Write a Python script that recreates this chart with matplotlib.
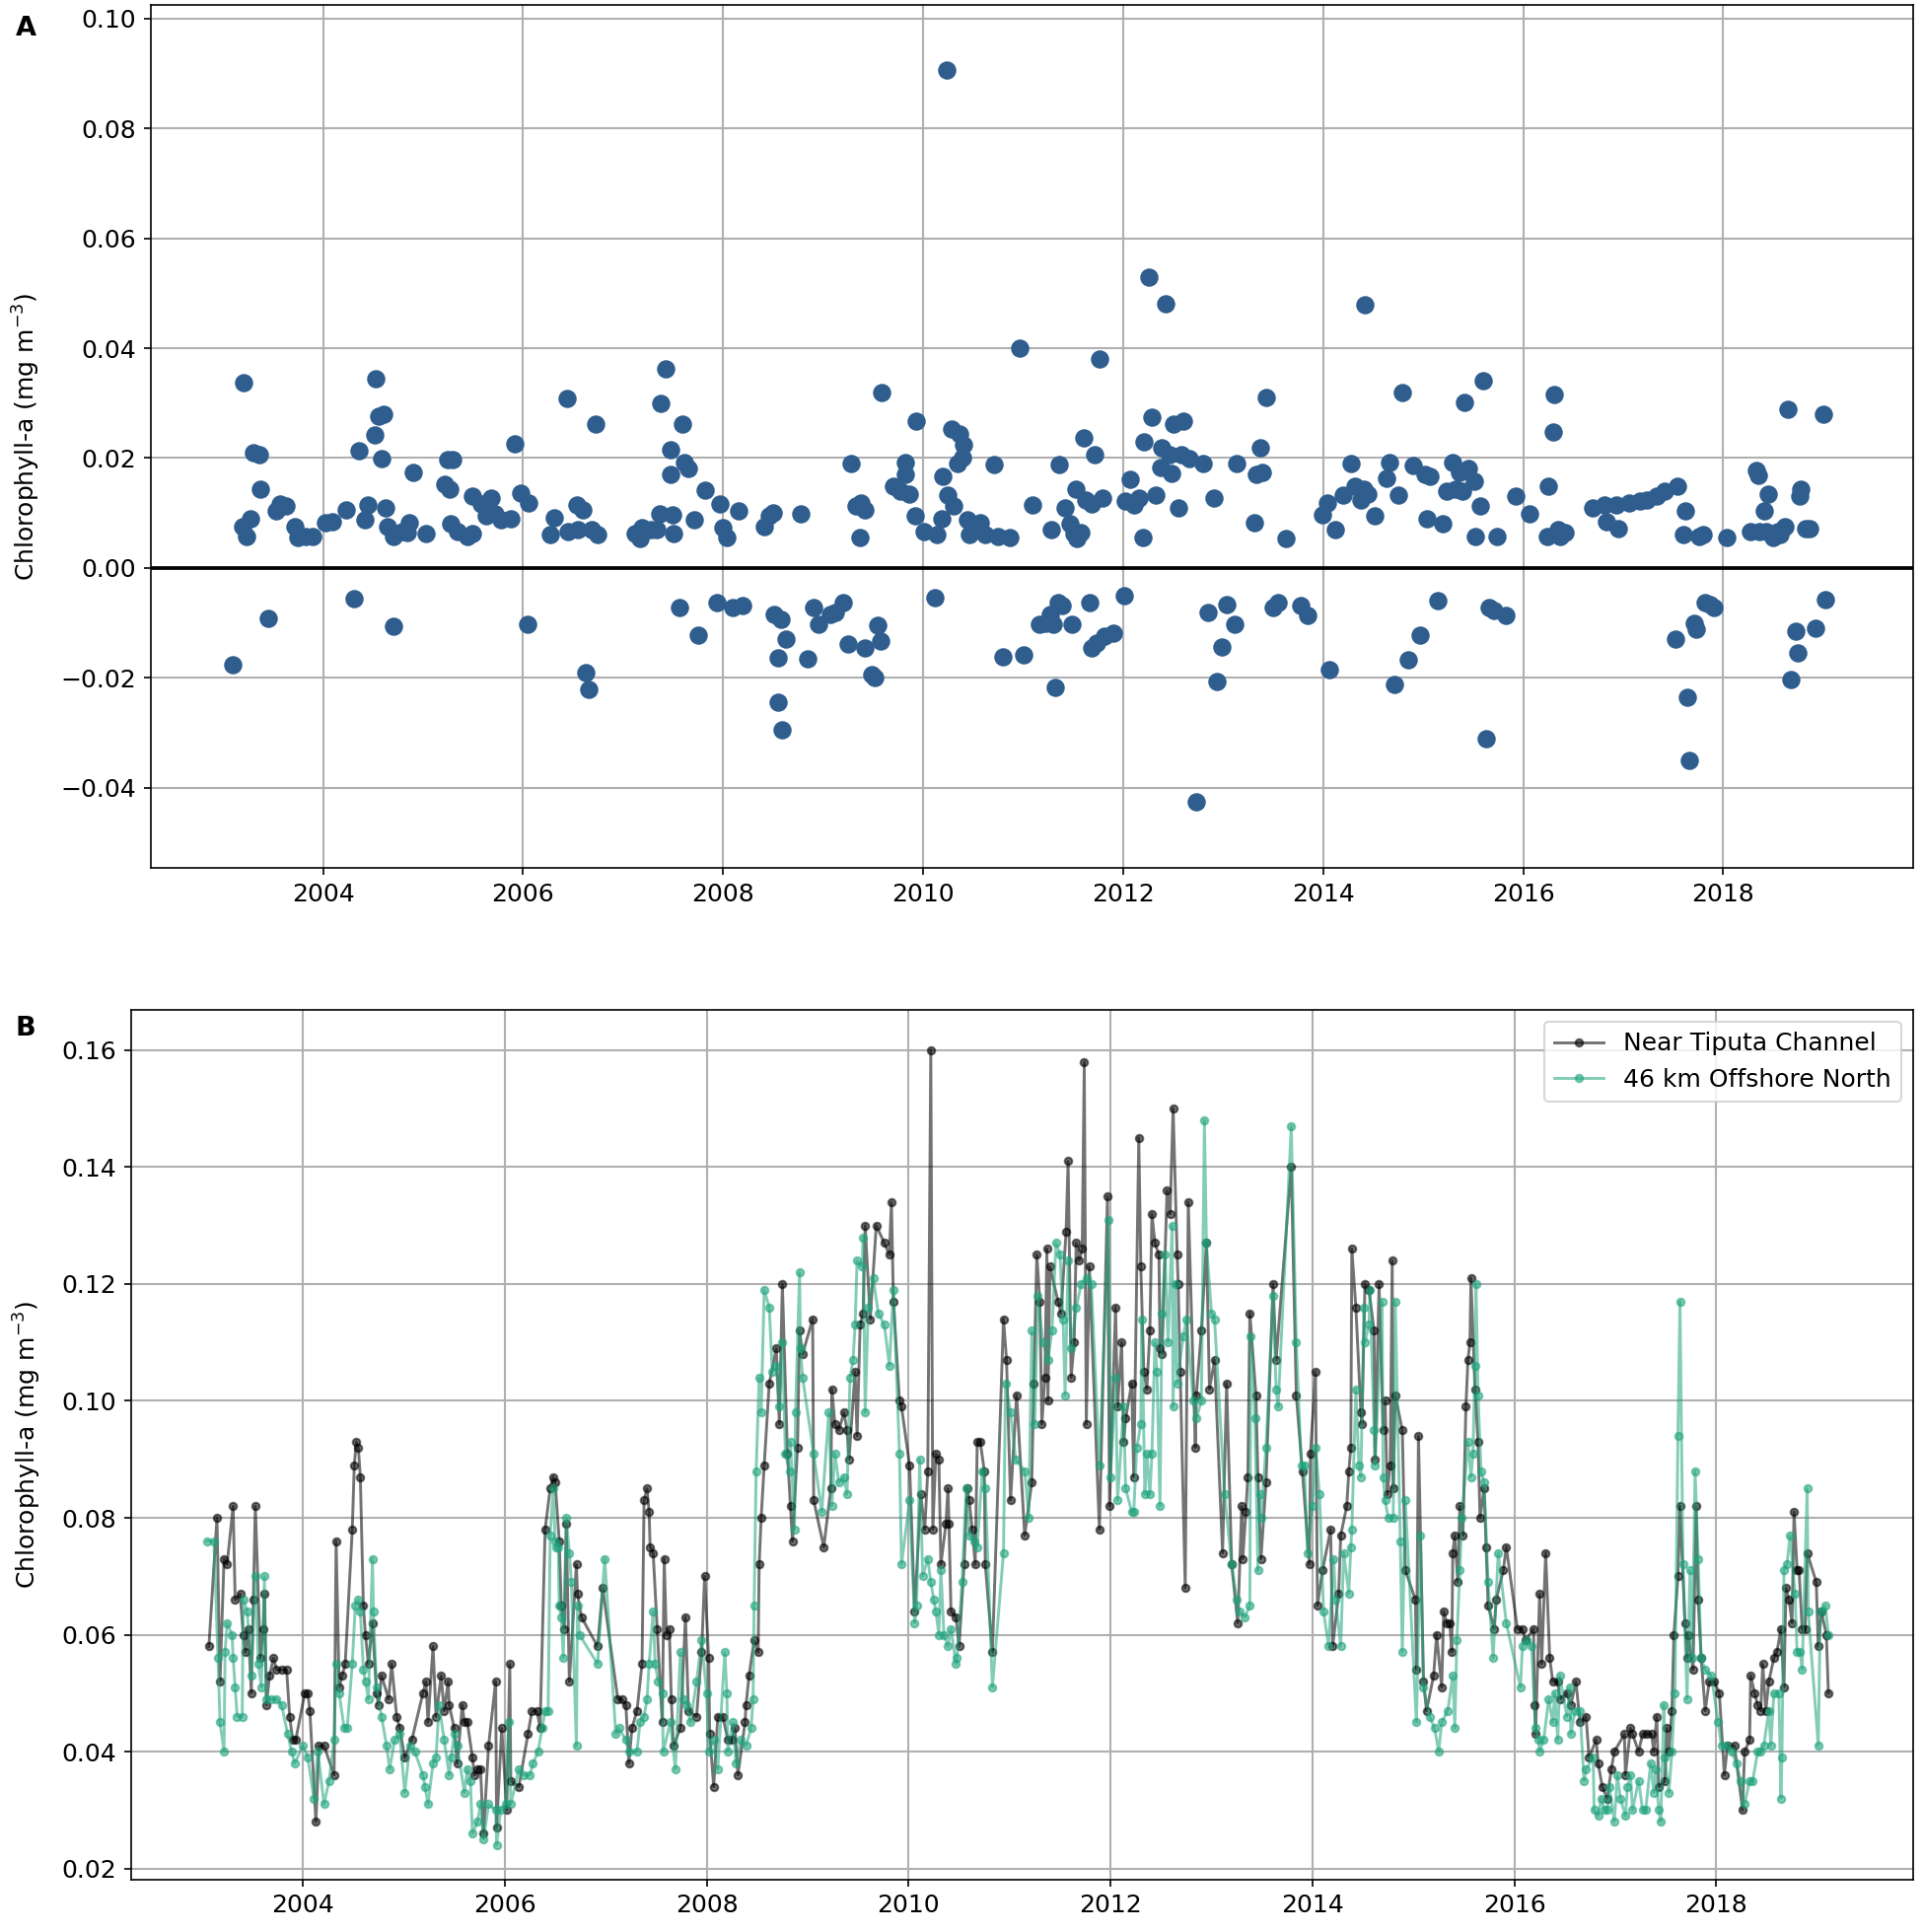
import matplotlib
matplotlib.use("Agg")
import matplotlib.pyplot as plt
import numpy as np

# ---- panel A: difference (near channel minus offshore) ----
diff_dates = [
    2003.10, 2003.21, 2003.20, 2003.24, 2003.28, 2003.30, 2003.36, 2003.37, 2003.45, 2003.53,
    2003.57, 2003.63, 2003.72, 2003.75, 2003.83, 2003.90, 2004.02, 2004.09, 2004.23, 2004.31,
    2004.36, 2004.42, 2004.45, 2004.52, 2004.53, 2004.56, 2004.61, 2004.59, 2004.63, 2004.65,
    2004.70, 2004.70, 2004.79, 2004.84, 2004.86, 2004.90, 2005.03, 2005.22, 2005.25, 2005.30,
    2005.27, 2005.28, 2005.35, 2005.44, 2005.49, 2005.49, 2005.58, 2005.63, 2005.68, 2005.72,
    2005.78, 2005.88, 2005.92, 2005.98, 2006.05, 2006.06, 2006.27, 2006.31, 2006.44, 2006.45,
    2006.54, 2006.55, 2006.60, 2006.63, 2006.66, 2006.69, 2006.73, 2006.75, 2007.12, 2007.17,
    2007.19, 2007.28, 2007.34, 2007.37, 2007.38, 2007.43, 2007.48, 2007.48, 2007.50, 2007.51,
    2007.56, 2007.59, 2007.61, 2007.65, 2007.71, 2007.75, 2007.82, 2007.94, 2007.97, 2008.00,
    2008.04, 2008.10, 2008.16, 2008.20, 2008.41, 2008.46, 2008.50, 2008.51, 2008.55, 2008.55,
    2008.58, 2008.59, 2008.63, 2008.78, 2008.85, 2008.91, 2008.95, 2009.07, 2009.12, 2009.20,
    2009.25, 2009.28, 2009.33, 2009.37, 2009.38, 2009.42, 2009.42, 2009.49, 2009.52, 2009.55,
    2009.58, 2009.59, 2009.70, 2009.77, 2009.82, 2009.82, 2009.86, 2009.92, 2009.93, 2010.01,
    2010.12, 2010.14, 2010.19, 2010.20, 2010.24, 2010.25, 2010.29, 2010.31, 2010.34, 2010.36,
    2010.39, 2010.40, 2010.44, 2010.46, 2010.52, 2010.57, 2010.62, 2010.71, 2010.75, 2010.80,
    2010.87, 2010.97, 2011.01, 2011.09, 2011.16, 2011.22, 2011.27, 2011.28, 2011.30, 2011.32,
    2011.35, 2011.36, 2011.39, 2011.42, 2011.47, 2011.49, 2011.51, 2011.53, 2011.54, 2011.58,
    2011.61, 2011.63, 2011.67, 2011.69, 2011.69, 2011.72, 2011.74, 2011.76, 2011.79, 2011.81,
    2011.90, 2012.01, 2012.02, 2012.07, 2012.11, 2012.16, 2012.20, 2012.21, 2012.26, 2012.29,
    2012.33, 2012.38, 2012.39, 2012.43, 2012.46, 2012.48, 2012.50, 2012.55, 2012.58, 2012.60,
    2012.66, 2012.73, 2012.80, 2012.85, 2012.91, 2012.94, 2012.99, 2013.04, 2013.12, 2013.14,
    2013.31, 2013.33, 2013.37, 2013.39, 2013.43, 2013.50, 2013.55, 2013.63, 2013.78, 2013.85,
    2013.99, 2014.04, 2014.06, 2014.12, 2014.20, 2014.28, 2014.32, 2014.38, 2014.41, 2014.42,
    2014.45, 2014.52, 2014.63, 2014.66, 2014.71, 2014.75, 2014.79, 2014.85, 2014.90, 2014.97,
    2015.02, 2015.04, 2015.07, 2015.15, 2015.20, 2015.24, 2015.29, 2015.32, 2015.36, 2015.39,
    2015.41, 2015.45, 2015.51, 2015.52, 2015.57, 2015.60, 2015.63, 2015.66, 2015.71, 2015.74,
    2015.83, 2015.93, 2016.06, 2016.24, 2016.25, 2016.30, 2016.31, 2016.35, 2016.37, 2016.42,
    2016.69, 2016.81, 2016.83, 2016.93, 2016.95, 2017.06, 2017.17, 2017.24, 2017.34, 2017.41,
    2017.54, 2017.52, 2017.60, 2017.62, 2017.64, 2017.66, 2017.71, 2017.73, 2017.76, 2017.80,
    2017.82, 2017.87, 2017.91, 2018.04, 2018.27, 2018.33, 2018.35, 2018.36, 2018.41, 2018.43,
    2018.45, 2018.50, 2018.55, 2018.57, 2018.62, 2018.65, 2018.68, 2018.73, 2018.75, 2018.77,
    2018.78, 2018.82, 2018.86, 2018.92, 2019.00, 2019.02,
]
diff_vals = [
    -0.0177, 0.0338, 0.0076, 0.0058, 0.0090, 0.0210, 0.0206, 0.0143, -0.0092, 0.0103,
    0.0116, 0.0112, 0.0076, 0.0056, 0.0058, 0.0058, 0.0083, 0.0085, 0.0105, -0.0056,
    0.0213, 0.0087, 0.0114, 0.0242, 0.0345, 0.0277, 0.0280, 0.0199, 0.0110, 0.0076,
    -0.0107, 0.0058, 0.0067, 0.0065, 0.0083, 0.0174, 0.0063, 0.0152, 0.0197, 0.0197,
    0.0143, 0.0081, 0.0067, 0.0058, 0.0063, 0.0130, 0.0116, 0.0094, 0.0128, 0.0098,
    0.0087, 0.0090, 0.0226, 0.0136, -0.0103, 0.0119, 0.0060, 0.0092, 0.0309, 0.0067,
    0.0114, 0.0069, 0.0105, -0.0190, -0.0221, 0.0069, 0.0262, 0.0060, 0.0063, 0.0054,
    0.0074, 0.0069, 0.0069, 0.0098, 0.0300, 0.0362, 0.0215, 0.0170, 0.0096, 0.0063,
    -0.0072, 0.0262, 0.0192, 0.0181, 0.0087, -0.0123, 0.0141, -0.0063, 0.0116, 0.0074,
    0.0056, -0.0072, 0.0103, -0.0069, 0.0076, 0.0094, 0.0101, -0.0085, -0.0163, -0.0244,
    -0.0094, -0.0295, -0.0130, 0.0098, -0.0166, -0.0072, -0.0103, -0.0085, -0.0081, -0.0063,
    -0.0139, 0.0190, 0.0112, 0.0056, 0.0119, -0.0145, 0.0105, -0.0195, -0.0199, -0.0105,
    -0.0134, 0.0320, 0.0148, 0.0139, 0.0192, 0.0170, 0.0134, 0.0094, 0.0268, 0.0067,
    -0.0054, 0.0060, 0.0090, 0.0166, 0.0906, 0.0132, 0.0253, 0.0112, 0.0190, 0.0244,
    0.0201, 0.0224, 0.0087, 0.0060, 0.0074, 0.0083, 0.0060, 0.0188, 0.0058, -0.0161,
    0.0056, 0.0400, -0.0159, 0.0114, -0.0103, -0.0101, -0.0085, 0.0069, -0.0103, -0.0217,
    -0.0063, 0.0188, -0.0069, 0.0110, 0.0081, -0.0103, 0.0063, 0.0143, 0.0054, 0.0065,
    0.0237, 0.0123, -0.0063, -0.0145, 0.0116, 0.0206, -0.0136, 0.0380, 0.0128, -0.0125,
    -0.0119, -0.0051, 0.0121, 0.0161, 0.0114, 0.0128, 0.0056, 0.0230, 0.0530, 0.0275,
    0.0132, 0.0183, 0.0219, 0.0480, 0.0206, 0.0172, 0.0262, 0.0110, 0.0206, 0.0268,
    0.0199, -0.0425, 0.0190, -0.0081, 0.0128, -0.0206, -0.0143, -0.0067, -0.0103, 0.0190,
    0.0083, 0.0170, 0.0219, 0.0174, 0.0311, -0.0072, -0.0063, 0.0054, -0.0069, -0.0087,
    0.0096, 0.0119, -0.0186, 0.0069, 0.0132, 0.0190, 0.0148, 0.0123, 0.0143, 0.0479,
    0.0134, 0.0094, 0.0163, 0.0192, -0.0213, 0.0132, 0.0320, -0.0168, 0.0186, -0.0123,
    0.0170, 0.0090, 0.0166, -0.0060, 0.0081, 0.0139, 0.0192, 0.0143, 0.0174, 0.0139,
    0.0302, 0.0181, 0.0157, 0.0058, 0.0112, 0.0340, -0.0311, -0.0072, -0.0078, 0.0058,
    -0.0087, 0.0130, 0.0098, 0.0058, 0.0148, 0.0248, 0.0315, 0.0069, 0.0058, 0.0065,
    0.0110, 0.0114, 0.0085, 0.0114, 0.0072, 0.0119, 0.0121, 0.0123, 0.0130, 0.0139,
    0.0148, -0.0130, 0.0060, 0.0103, -0.0235, -0.0351, -0.0101, -0.0112, 0.0058, 0.0060,
    -0.0063, -0.0067, -0.0072, 0.0056, 0.0067, 0.0177, 0.0168, 0.0067, 0.0103, 0.0067,
    0.0134, 0.0056, 0.0067, 0.0060, 0.0076, 0.0289, -0.0204, -0.0116, -0.0154, 0.0130,
    0.0143, 0.0072, 0.0072, -0.0110, 0.0280, -0.0058,
]

# ---- panel B: Near Tiputa Channel ----
near_dates = [
    2003.07, 2003.15, 2003.18, 2003.22, 2003.25, 2003.31, 2003.33, 2003.38, 2003.41, 2003.43,
    2003.46, 2003.49, 2003.51, 2003.53, 2003.58, 2003.61, 2003.62, 2003.64, 2003.67, 2003.71,
    2003.74, 2003.79, 2003.84, 2003.87, 2003.90, 2003.93, 2004.02, 2004.05, 2004.07, 2004.13,
    2004.16, 2004.21, 2004.31, 2004.33, 2004.36, 2004.39, 2004.42, 2004.49, 2004.51, 2004.53,
    2004.55, 2004.57, 2004.60, 2004.62, 2004.65, 2004.69, 2004.73, 2004.75, 2004.78, 2004.85,
    2004.88, 2004.93, 2004.96, 2005.01, 2005.08, 2005.19, 2005.22, 2005.24, 2005.29, 2005.32,
    2005.37, 2005.40, 2005.44, 2005.45, 2005.50, 2005.53, 2005.58, 2005.60, 2005.63, 2005.68,
    2005.70, 2005.73, 2005.76, 2005.79, 2005.84, 2005.91, 2005.92, 2005.97, 2006.02, 2006.05,
    2006.06, 2006.14, 2006.23, 2006.27, 2006.32, 2006.35, 2006.40, 2006.45, 2006.48, 2006.50,
    2006.54, 2006.56, 2006.59, 2006.61, 2006.64, 2006.71, 2006.72, 2006.76, 2006.92, 2006.97,
    2007.12, 2007.16, 2007.20, 2007.23, 2007.26, 2007.31, 2007.36, 2007.38, 2007.41, 2007.43,
    2007.44, 2007.47, 2007.51, 2007.56, 2007.58, 2007.60, 2007.63, 2007.65, 2007.67, 2007.74,
    2007.79, 2007.82, 2007.90, 2007.95, 2007.98, 2008.02, 2008.03, 2008.07, 2008.11, 2008.16,
    2008.21, 2008.25, 2008.28, 2008.31, 2008.38, 2008.39, 2008.42, 2008.47, 2008.51, 2008.52,
    2008.54, 2008.57, 2008.62, 2008.69, 2008.72, 2008.75, 2008.80, 2008.83, 2008.85, 2008.90,
    2008.92, 2008.95, 2009.05, 2009.06, 2009.16, 2009.23, 2009.24, 2009.27, 2009.31, 2009.36,
    2009.39, 2009.41, 2009.47, 2009.49, 2009.52, 2009.55, 2009.57, 2009.62, 2009.68, 2009.76,
    2009.81, 2009.83, 2009.85, 2009.91, 2009.93, 2010.01, 2010.06, 2010.12, 2010.16, 2010.19,
    2010.22, 2010.24, 2010.27, 2010.30, 2010.32, 2010.37, 2010.39, 2010.40, 2010.42, 2010.47,
    2010.50, 2010.55, 2010.58, 2010.60, 2010.63, 2010.66, 2010.68, 2010.71, 2010.75, 2010.76,
    2010.83, 2010.94, 2010.97, 2011.01, 2011.07, 2011.15, 2011.22, 2011.24, 2011.27, 2011.30,
    2011.32, 2011.35, 2011.37, 2011.38, 2011.40, 2011.48, 2011.51, 2011.56, 2011.58, 2011.61,
    2011.64, 2011.66, 2011.69, 2011.72, 2011.74, 2011.76, 2011.79, 2011.89, 2011.97, 2011.99,
    2012.05, 2012.07, 2012.11, 2012.13, 2012.15, 2012.21, 2012.23, 2012.28, 2012.30, 2012.33,
    2012.36, 2012.39, 2012.41, 2012.44, 2012.48, 2012.49, 2012.51, 2012.56, 2012.59, 2012.62,
    2012.66, 2012.67, 2012.69, 2012.74, 2012.77, 2012.84, 2012.85, 2012.90, 2012.95, 2012.98,
    2013.03, 2013.11, 2013.15, 2013.20, 2013.26, 2013.30, 2013.31, 2013.34, 2013.36, 2013.38,
    2013.44, 2013.46, 2013.49, 2013.54, 2013.61, 2013.64, 2013.79, 2013.84, 2013.90, 2013.97,
    2013.98, 2014.03, 2014.05, 2014.10, 2014.18, 2014.20, 2014.26, 2014.28, 2014.34, 2014.36,
    2014.38, 2014.39, 2014.43, 2014.48, 2014.49, 2014.52, 2014.56, 2014.61, 2014.62, 2014.66,
    2014.70, 2014.72, 2014.74, 2014.77, 2014.79, 2014.80, 2014.82, 2014.89, 2014.92, 2015.02,
    2015.03, 2015.05, 2015.10, 2015.13, 2015.20, 2015.23, 2015.28, 2015.30, 2015.33, 2015.36,
    2015.38, 2015.39, 2015.41, 2015.44, 2015.46, 2015.49, 2015.52, 2015.54, 2015.56, 2015.57,
    2015.61, 2015.64, 2015.66, 2015.70, 2015.72, 2015.74, 2015.80, 2015.82, 2015.89, 2015.92,
    2016.03, 2016.08, 2016.11, 2016.19, 2016.20, 2016.21, 2016.25, 2016.27, 2016.31, 2016.35,
    2016.38, 2016.43, 2016.45, 2016.52, 2016.56, 2016.61, 2016.65, 2016.71, 2016.74, 2016.81,
    2016.83, 2016.87, 2016.92, 2016.96, 2016.99, 2017.09, 2017.10, 2017.15, 2017.17, 2017.23,
    2017.27, 2017.31, 2017.36, 2017.38, 2017.41, 2017.43, 2017.49, 2017.51, 2017.53, 2017.56,
    2017.58, 2017.62, 2017.64, 2017.69, 2017.71, 2017.72, 2017.77, 2017.80, 2017.82, 2017.85,
    2017.89, 2017.93, 2017.98, 2018.03, 2018.08, 2018.11, 2018.18, 2018.26, 2018.28, 2018.33,
    2018.34, 2018.38, 2018.41, 2018.44, 2018.46, 2018.49, 2018.52, 2018.57, 2018.60, 2018.64,
    2018.67, 2018.69, 2018.72, 2018.75, 2018.77, 2018.80, 2018.82, 2018.85, 2018.88, 2018.90,
    2018.99, 2019.01, 2019.04, 2019.09, 2019.11,
]
near_chl = [
    0.058, 0.080, 0.052, 0.073, 0.072, 0.082, 0.066, 0.067, 0.060, 0.057,
    0.061, 0.050, 0.066, 0.082, 0.056, 0.061, 0.067, 0.048, 0.053, 0.056,
    0.054, 0.054, 0.054, 0.046, 0.042, 0.042, 0.050, 0.050, 0.047, 0.028,
    0.041, 0.041, 0.036, 0.076, 0.051, 0.053, 0.055, 0.078, 0.089, 0.093,
    0.092, 0.087, 0.065, 0.060, 0.055, 0.062, 0.050, 0.048, 0.053, 0.049,
    0.055, 0.046, 0.044, 0.039, 0.042, 0.050, 0.052, 0.045, 0.058, 0.046,
    0.053, 0.047, 0.052, 0.048, 0.044, 0.038, 0.048, 0.045, 0.045, 0.039,
    0.036, 0.037, 0.037, 0.026, 0.041, 0.052, 0.027, 0.044, 0.030, 0.055,
    0.035, 0.034, 0.043, 0.047, 0.047, 0.044, 0.078, 0.085, 0.087, 0.086,
    0.076, 0.065, 0.061, 0.079, 0.052, 0.072, 0.067, 0.063, 0.058, 0.068,
    0.049, 0.049, 0.048, 0.038, 0.044, 0.047, 0.055, 0.083, 0.085, 0.081,
    0.075, 0.074, 0.061, 0.045, 0.073, 0.060, 0.061, 0.049, 0.041, 0.044,
    0.063, 0.047, 0.046, 0.057, 0.070, 0.056, 0.043, 0.034, 0.046, 0.046,
    0.042, 0.042, 0.044, 0.036, 0.045, 0.048, 0.053, 0.059, 0.057, 0.072,
    0.080, 0.089, 0.103, 0.109, 0.096, 0.120, 0.091, 0.082, 0.076, 0.092,
    0.112, 0.108, 0.114, 0.083, 0.075, 0.085, 0.102, 0.096, 0.095, 0.098,
    0.095, 0.090, 0.105, 0.094, 0.113, 0.115, 0.130, 0.114, 0.130, 0.127,
    0.125, 0.134, 0.117, 0.100, 0.099, 0.089, 0.064, 0.084, 0.078, 0.088,
    0.160, 0.078, 0.091, 0.090, 0.072, 0.079, 0.085, 0.079, 0.064, 0.063,
    0.058, 0.072, 0.085, 0.083, 0.078, 0.072, 0.093, 0.093, 0.088, 0.072,
    0.057, 0.114, 0.107, 0.083, 0.101, 0.077, 0.086, 0.103, 0.125, 0.117,
    0.096, 0.104, 0.126, 0.100, 0.123, 0.117, 0.115, 0.129, 0.141, 0.104,
    0.110, 0.127, 0.124, 0.126, 0.158, 0.096, 0.123, 0.078, 0.135, 0.082,
    0.116, 0.099, 0.110, 0.093, 0.097, 0.103, 0.087, 0.145, 0.123, 0.105,
    0.102, 0.112, 0.132, 0.127, 0.125, 0.109, 0.108, 0.136, 0.132, 0.150,
    0.125, 0.120, 0.105, 0.068, 0.134, 0.092, 0.101, 0.112, 0.127, 0.102,
    0.107, 0.074, 0.103, 0.072, 0.062, 0.082, 0.073, 0.081, 0.087, 0.115,
    0.101, 0.087, 0.073, 0.086, 0.120, 0.107, 0.140, 0.101, 0.088, 0.072,
    0.091, 0.105, 0.065, 0.071, 0.078, 0.058, 0.067, 0.077, 0.082, 0.088,
    0.092, 0.126, 0.116, 0.098, 0.096, 0.120, 0.119, 0.112, 0.090, 0.120,
    0.095, 0.100, 0.084, 0.089, 0.124, 0.085, 0.101, 0.095, 0.071, 0.066,
    0.054, 0.094, 0.052, 0.047, 0.053, 0.060, 0.051, 0.064, 0.062, 0.062,
    0.057, 0.074, 0.077, 0.069, 0.082, 0.077, 0.099, 0.107, 0.110, 0.121,
    0.102, 0.093, 0.080, 0.085, 0.075, 0.065, 0.061, 0.066, 0.071, 0.075,
    0.061, 0.061, 0.059, 0.061, 0.048, 0.043, 0.067, 0.055, 0.074, 0.056,
    0.052, 0.052, 0.049, 0.050, 0.048, 0.052, 0.045, 0.046, 0.039, 0.042,
    0.038, 0.034, 0.032, 0.037, 0.040, 0.043, 0.036, 0.044, 0.043, 0.040,
    0.043, 0.043, 0.043, 0.040, 0.046, 0.034, 0.035, 0.044, 0.040, 0.047,
    0.060, 0.070, 0.082, 0.062, 0.056, 0.060, 0.054, 0.082, 0.066, 0.056,
    0.047, 0.052, 0.052, 0.050, 0.036, 0.041, 0.041, 0.030, 0.040, 0.042,
    0.053, 0.050, 0.048, 0.047, 0.055, 0.047, 0.052, 0.056, 0.057, 0.061,
    0.051, 0.068, 0.066, 0.062, 0.081, 0.071, 0.071, 0.061, 0.061, 0.074,
    0.069, 0.058, 0.064, 0.060, 0.050,
]

# ---- panel B: 46 km Offshore North ----
off_dates = [
    2003.05, 2003.12, 2003.16, 2003.18, 2003.22, 2003.23, 2003.25, 2003.30, 2003.31, 2003.33,
    2003.35, 2003.40, 2003.41, 2003.45, 2003.49, 2003.53, 2003.56, 2003.59, 2003.62, 2003.64,
    2003.69, 2003.74, 2003.79, 2003.85, 2003.89, 2003.92, 2004.00, 2004.05, 2004.11, 2004.15,
    2004.21, 2004.26, 2004.31, 2004.33, 2004.36, 2004.41, 2004.44, 2004.49, 2004.52, 2004.55,
    2004.57, 2004.60, 2004.62, 2004.65, 2004.69, 2004.70, 2004.73, 2004.78, 2004.83, 2004.86,
    2004.91, 2004.96, 2005.01, 2005.06, 2005.11, 2005.19, 2005.21, 2005.24, 2005.29, 2005.32,
    2005.35, 2005.40, 2005.45, 2005.47, 2005.50, 2005.53, 2005.60, 2005.63, 2005.66, 2005.68,
    2005.73, 2005.76, 2005.79, 2005.84, 2005.91, 2005.92, 2005.96, 2006.01, 2006.04, 2006.06,
    2006.14, 2006.19, 2006.25, 2006.28, 2006.33, 2006.37, 2006.40, 2006.43, 2006.45, 2006.48,
    2006.50, 2006.51, 2006.53, 2006.54, 2006.56, 2006.58, 2006.61, 2006.64, 2006.66, 2006.71,
    2006.72, 2006.74, 2006.92, 2006.99, 2007.10, 2007.13, 2007.20, 2007.23, 2007.31, 2007.34,
    2007.38, 2007.41, 2007.43, 2007.47, 2007.49, 2007.52, 2007.56, 2007.57, 2007.64, 2007.69,
    2007.74, 2007.77, 2007.80, 2007.84, 2007.90, 2007.95, 2008.00, 2008.02, 2008.07, 2008.11,
    2008.18, 2008.20, 2008.21, 2008.26, 2008.29, 2008.34, 2008.39, 2008.44, 2008.46, 2008.47,
    2008.49, 2008.52, 2008.54, 2008.57, 2008.62, 2008.65, 2008.69, 2008.72, 2008.75, 2008.78,
    2008.82, 2008.83, 2008.87, 2008.88, 2008.92, 2008.93, 2008.95, 2009.06, 2009.14, 2009.21,
    2009.24, 2009.27, 2009.31, 2009.36, 2009.39, 2009.42, 2009.45, 2009.47, 2009.49, 2009.54,
    2009.55, 2009.57, 2009.60, 2009.65, 2009.70, 2009.76, 2009.81, 2009.85, 2009.91, 2009.93,
    2010.01, 2010.06, 2010.08, 2010.11, 2010.14, 2010.19, 2010.22, 2010.25, 2010.27, 2010.30,
    2010.32, 2010.35, 2010.39, 2010.42, 2010.47, 2010.48, 2010.53, 2010.57, 2010.60, 2010.65,
    2010.68, 2010.73, 2010.76, 2010.83, 2010.94, 2010.96, 2011.01, 2011.06, 2011.15, 2011.19,
    2011.22, 2011.25, 2011.28, 2011.33, 2011.38, 2011.42, 2011.46, 2011.50, 2011.53, 2011.55,
    2011.58, 2011.61, 2011.66, 2011.71, 2011.76, 2011.81, 2011.89, 2011.98, 2012.00, 2012.05,
    2012.07, 2012.13, 2012.15, 2012.21, 2012.23, 2012.26, 2012.30, 2012.31, 2012.34, 2012.36,
    2012.39, 2012.41, 2012.44, 2012.46, 2012.49, 2012.51, 2012.54, 2012.57, 2012.61, 2012.62,
    2012.64, 2012.66, 2012.72, 2012.75, 2012.82, 2012.85, 2012.90, 2012.93, 2012.95, 2013.00,
    2013.03, 2013.13, 2013.20, 2013.25, 2013.28, 2013.33, 2013.38, 2013.39, 2013.43, 2013.46,
    2013.48, 2013.49, 2013.54, 2013.61, 2013.64, 2013.66, 2013.79, 2013.84, 2013.89, 2013.92,
    2013.95, 2014.00, 2014.03, 2014.07, 2014.11, 2014.16, 2014.21, 2014.23, 2014.28, 2014.31,
    2014.36, 2014.38, 2014.39, 2014.43, 2014.46, 2014.48, 2014.51, 2014.52, 2014.56, 2014.57,
    2014.61, 2014.62, 2014.69, 2014.70, 2014.72, 2014.75, 2014.80, 2014.82, 2014.87, 2014.89,
    2014.92, 2015.03, 2015.07, 2015.10, 2015.16, 2015.21, 2015.25, 2015.28, 2015.34, 2015.39,
    2015.41, 2015.43, 2015.46, 2015.48, 2015.54, 2015.57, 2015.59, 2015.61, 2015.62, 2015.64,
    2015.67, 2015.70, 2015.74, 2015.79, 2015.84, 2015.92, 2016.06, 2016.08, 2016.12, 2016.17,
    2016.21, 2016.24, 2016.25, 2016.29, 2016.34, 2016.38, 2016.40, 2016.43, 2016.45, 2016.52,
    2016.55, 2016.56, 2016.60, 2016.65, 2016.69, 2016.71, 2016.78, 2016.79, 2016.83, 2016.86,
    2016.89, 2016.92, 2016.94, 2016.99, 2017.02, 2017.05, 2017.10, 2017.12, 2017.15, 2017.17,
    2017.23, 2017.27, 2017.30, 2017.35, 2017.38, 2017.40, 2017.43, 2017.45, 2017.48, 2017.49,
    2017.53, 2017.56, 2017.59, 2017.62, 2017.64, 2017.67, 2017.71, 2017.74, 2017.76, 2017.79,
    2017.82, 2017.85, 2017.89, 2017.95, 2018.02, 2018.05, 2018.10, 2018.15, 2018.20, 2018.24,
    2018.28, 2018.33, 2018.36, 2018.41, 2018.44, 2018.47, 2018.52, 2018.54, 2018.57, 2018.62,
    2018.64, 2018.65, 2018.67, 2018.70, 2018.73, 2018.78, 2018.80, 2018.83, 2018.85, 2018.90,
    2018.91, 2019.01, 2019.03, 2019.08, 2019.11,
]
off_chl = [
    0.076, 0.076, 0.056, 0.045, 0.040, 0.057, 0.062, 0.060, 0.056, 0.051,
    0.046, 0.046, 0.066, 0.064, 0.053, 0.070, 0.055, 0.051, 0.070, 0.049,
    0.049, 0.049, 0.048, 0.043, 0.040, 0.038, 0.041, 0.039, 0.032, 0.040,
    0.031, 0.035, 0.042, 0.055, 0.050, 0.044, 0.044, 0.055, 0.065, 0.066,
    0.064, 0.054, 0.052, 0.049, 0.073, 0.064, 0.051, 0.046, 0.041, 0.037,
    0.042, 0.043, 0.033, 0.041, 0.040, 0.036, 0.034, 0.031, 0.038, 0.039,
    0.048, 0.042, 0.036, 0.039, 0.043, 0.041, 0.033, 0.037, 0.035, 0.026,
    0.028, 0.031, 0.025, 0.031, 0.030, 0.024, 0.030, 0.031, 0.045, 0.031,
    0.037, 0.036, 0.036, 0.038, 0.040, 0.044, 0.047, 0.047, 0.077, 0.085,
    0.076, 0.075, 0.075, 0.065, 0.063, 0.056, 0.080, 0.074, 0.069, 0.041,
    0.065, 0.060, 0.055, 0.073, 0.043, 0.044, 0.042, 0.040, 0.040, 0.045,
    0.046, 0.049, 0.055, 0.064, 0.055, 0.052, 0.050, 0.040, 0.045, 0.037,
    0.057, 0.049, 0.048, 0.045, 0.052, 0.059, 0.050, 0.040, 0.042, 0.037,
    0.057, 0.050, 0.040, 0.045, 0.038, 0.042, 0.041, 0.044, 0.049, 0.065,
    0.088, 0.104, 0.098, 0.119, 0.116, 0.105, 0.106, 0.099, 0.110, 0.091,
    0.088, 0.093, 0.078, 0.098, 0.122, 0.109, 0.104, 0.091, 0.081, 0.098,
    0.082, 0.091, 0.086, 0.087, 0.084, 0.104, 0.107, 0.113, 0.124, 0.123,
    0.128, 0.098, 0.116, 0.121, 0.115, 0.113, 0.106, 0.119, 0.091, 0.072,
    0.083, 0.062, 0.065, 0.090, 0.070, 0.073, 0.069, 0.066, 0.064, 0.060,
    0.071, 0.060, 0.058, 0.061, 0.055, 0.056, 0.069, 0.085, 0.077, 0.076,
    0.075, 0.088, 0.085, 0.051, 0.074, 0.103, 0.098, 0.090, 0.088, 0.080,
    0.112, 0.096, 0.118, 0.110, 0.107, 0.112, 0.127, 0.125, 0.114, 0.101,
    0.124, 0.109, 0.116, 0.120, 0.121, 0.120, 0.089, 0.131, 0.087, 0.104,
    0.083, 0.099, 0.085, 0.081, 0.081, 0.092, 0.096, 0.114, 0.084, 0.091,
    0.084, 0.091, 0.110, 0.105, 0.082, 0.115, 0.125, 0.110, 0.130, 0.099,
    0.120, 0.103, 0.111, 0.114, 0.100, 0.097, 0.100, 0.148, 0.127, 0.115,
    0.114, 0.084, 0.072, 0.066, 0.064, 0.063, 0.065, 0.111, 0.097, 0.071,
    0.084, 0.080, 0.092, 0.118, 0.102, 0.099, 0.147, 0.110, 0.089, 0.089,
    0.074, 0.082, 0.092, 0.084, 0.064, 0.058, 0.073, 0.066, 0.058, 0.074,
    0.067, 0.075, 0.078, 0.102, 0.089, 0.087, 0.116, 0.110, 0.113, 0.119,
    0.095, 0.089, 0.117, 0.087, 0.083, 0.080, 0.080, 0.117, 0.076, 0.057,
    0.083, 0.045, 0.077, 0.051, 0.046, 0.044, 0.040, 0.045, 0.047, 0.053,
    0.044, 0.059, 0.071, 0.080, 0.093, 0.087, 0.091, 0.106, 0.120, 0.101,
    0.088, 0.086, 0.069, 0.056, 0.074, 0.062, 0.051, 0.058, 0.059, 0.058,
    0.044, 0.042, 0.040, 0.042, 0.049, 0.045, 0.050, 0.042, 0.053, 0.046,
    0.051, 0.043, 0.047, 0.047, 0.035, 0.037, 0.039, 0.030, 0.029, 0.032,
    0.030, 0.030, 0.034, 0.028, 0.036, 0.032, 0.029, 0.034, 0.036, 0.030,
    0.035, 0.030, 0.030, 0.038, 0.033, 0.037, 0.030, 0.028, 0.048, 0.039,
    0.033, 0.040, 0.050, 0.094, 0.117, 0.072, 0.049, 0.071, 0.056, 0.088,
    0.073, 0.056, 0.054, 0.053, 0.045, 0.041, 0.041, 0.040, 0.038, 0.035,
    0.031, 0.035, 0.035, 0.040, 0.040, 0.041, 0.047, 0.041, 0.050, 0.050,
    0.032, 0.039, 0.071, 0.072, 0.077, 0.067, 0.057, 0.057, 0.054, 0.085,
    0.064, 0.041, 0.064, 0.065, 0.060,
]

near_dates = np.array(near_dates)
near_chl = np.array(near_chl)
off_dates = np.array(off_dates)
off_chl = np.array(off_chl)
o1 = np.argsort(near_dates, kind="stable")
o2 = np.argsort(off_dates, kind="stable")

year_ticks = [2004, 2006, 2008, 2010, 2012, 2014, 2016, 2018]
ylab = "Chlorophyll-a (mg m$^{-3}$)"
fs = 12

fig = plt.figure(figsize=(13, 13.06), dpi=150)
axA = fig.add_axes([0.0785, 0.5508, 0.9164, 0.4467])
axB = fig.add_axes([0.0682, 0.0271, 0.9267, 0.4502])

# panel A
axA.grid(True, color="#b0b0b0", lw=1.0)
axA.set_axisbelow(True)
axA.axhline(0, color="black", lw=1.8, zorder=2)
axA.scatter(diff_dates, diff_vals, s=62, color="#2f5e8e", zorder=3)
axA.set_xlim(2002.28, 2019.9)
axA.set_ylim(-0.0546, 0.1025)
axA.set_yticks([-0.04, -0.02, 0.0, 0.02, 0.04, 0.06, 0.08, 0.10])
axA.set_yticklabels(["\u22120.04", "\u22120.02", "0.00", "0.02", "0.04", "0.06", "0.08", "0.10"])
axA.set_xticks(year_ticks)
axA.set_xticklabels([str(y) for y in year_ticks])
axA.set_ylabel(ylab, fontsize=fs, labelpad=9)
axA.tick_params(labelsize=fs)

# panel B
axB.grid(True, color="#b0b0b0", lw=1.0)
axB.set_axisbelow(True)
axB.plot(near_dates[o1], near_chl[o1], "-o", color="black", alpha=0.55,
         lw=1.4, ms=3.6, label="Near Tiputa Channel")
axB.plot(off_dates[o2], off_chl[o2], "-o", color="#1ea37c", alpha=0.55,
         lw=1.4, ms=3.6, label="46 km Offshore North")
axB.set_xlim(2002.3, 2019.95)
axB.set_ylim(0.0181, 0.1669)
axB.set_yticks([0.02, 0.04, 0.06, 0.08, 0.10, 0.12, 0.14, 0.16])
axB.set_xticks(year_ticks)
axB.set_xticklabels([str(y) for y in year_ticks])
axB.set_ylabel(ylab, fontsize=fs, labelpad=9)
axB.tick_params(labelsize=fs)
axB.legend(loc="upper right", fontsize=fs)

fig.text(0.008, 0.992, "A", fontsize=13, fontweight="bold", va="top")
fig.text(0.008, 0.474, "B", fontsize=13, fontweight="bold", va="top")

fig.savefig("out.png", dpi=150)
